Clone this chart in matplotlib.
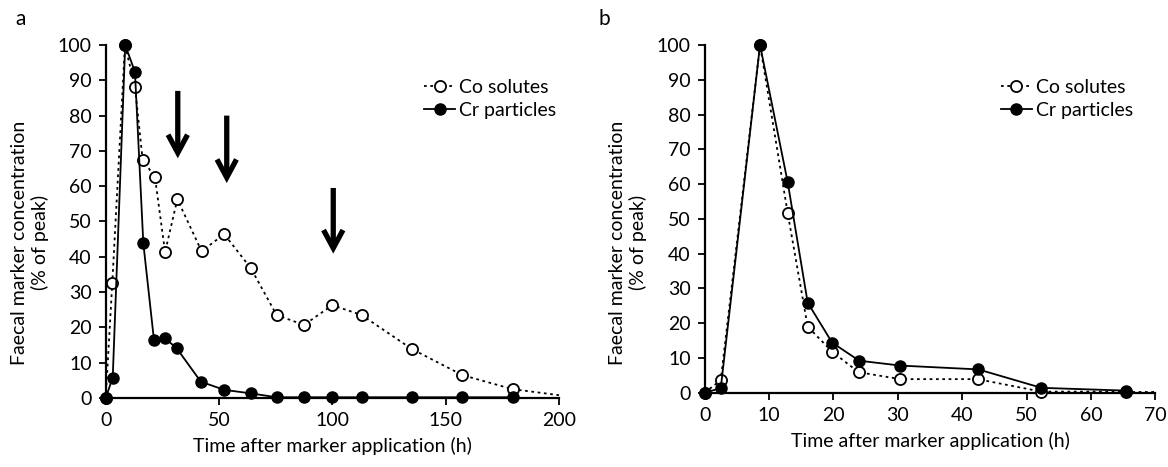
import matplotlib
matplotlib.use("Agg")
import matplotlib.pyplot as plt

plt.rcParams['font.family'] = ['Lato', 'DejaVu Sans']

# Panel a data
a_co_x = [0, 2.9, 8.5, 12.9, 16.3, 21.7, 26.2, 31.6, 42.3, 52.3, 64.1, 75.4, 87.5, 100, 112.9, 135, 157.3, 179.5]
a_co_y = [0, 32.5, 100, 88.2, 67.4, 62.7, 41.3, 56.3, 41.6, 46.4, 36.7, 23.5, 20.7, 26.3, 23.5, 13.9, 6.5, 2.5]
a_co_tail_x = [179.5, 200]
a_co_tail_y = [2.5, 0.8]
a_cr_x = [0, 3.1, 8.6, 12.9, 16.6, 21.3, 26.2, 31.3, 42, 52.3, 64.1, 75.4, 87.5, 100, 112.9, 135, 157.3, 179.5]
a_cr_y = [0, 5.8, 100, 92.4, 43.8, 16.4, 16.9, 14.1, 4.6, 2.3, 1.3, 0.2, 0.2, 0.2, 0.2, 0.2, 0.2, 0.2]
a_arrow_x = [31.8, 53.4, 100.4]
a_arrow_top = [87, 80, 59.5]
a_arrow_tip = [67.5, 60.5, 40.5]

# Panel b data
b_co_x = [0, 2.5, 8.6, 12.9, 16.0, 19.8, 23.9, 30.4, 42.4, 52.3, 65.4]
b_co_y = [0, 3.6, 100, 51.6, 19.0, 11.8, 5.9, 3.9, 3.9, 0.3, 0.3]
b_co_tail_x = [65.4, 70]
b_co_tail_y = [0.3, 0.3]
b_cr_x = [0, 2.5, 8.6, 12.9, 16.0, 19.8, 24.0, 30.4, 42.5, 52.3, 65.4]
b_cr_y = [0, 1.3, 100, 60.5, 25.9, 14.4, 9.2, 7.8, 6.7, 1.4, 0.6]

xlabel = "Time after marker application (h)"
ylabel = "Faecal marker concentration\n(% of peak)"
fs = 14

fig = plt.figure(figsize=(11.68, 4.67), dpi=100)
ax_a = fig.add_axes([0.0905, 0.1478, 0.3881, 0.7558])
ax_b = fig.add_axes([0.6033, 0.1591, 0.3859, 0.7445])

co_style = dict(color='black', linestyle=(0, (1.5, 2)), linewidth=1.3, marker='o',
                markersize=8, markerfacecolor='white', markeredgecolor='black',
                markeredgewidth=1.3, clip_on=False, zorder=3)
cr_style = dict(color='black', linestyle='-', linewidth=1.3, marker='o',
                markersize=8, markerfacecolor='black', markeredgecolor='black',
                clip_on=False, zorder=4)

def style_axes(ax, xmax, xstep):
    for s in ['top', 'right']:
        ax.spines[s].set_visible(False)
    for s in ['left', 'bottom']:
        ax.spines[s].set_linewidth(1.6)
    ax.set_ylim(0, 100)
    ax.set_xlim(0, xmax)
    ax.set_yticks(range(0, 101, 10))
    ax.set_xticks(range(0, xmax + 1, xstep))
    ax.tick_params(direction='out', length=5, width=1.3, labelsize=fs, pad=5)
    ax.set_xlabel(xlabel, fontsize=fs, labelpad=6)

# Panel a
ax_a.plot(a_co_tail_x, a_co_tail_y, color='black', linestyle=(0, (1.5, 2)), linewidth=1.3, clip_on=False)
ax_a.plot(a_co_x, a_co_y, label='Co solutes', **co_style)
ax_a.plot(a_cr_x, a_cr_y, label='Cr particles', **cr_style)
for x, t, b in zip(a_arrow_x, a_arrow_top, a_arrow_tip):
    ax_a.annotate('', xy=(x, b), xytext=(x, t),
                  arrowprops=dict(arrowstyle='->,head_length=1.3,head_width=0.7',
                                  color='black', lw=3.8, shrinkA=0, shrinkB=1,
                                  joinstyle='miter', capstyle='butt'))
style_axes(ax_a, 200, 50)
ax_a.legend(loc='upper left', bbox_to_anchor=(0.685, 0.925), frameon=False, fontsize=fs,
            handlelength=1.6, handletextpad=0.2, labelspacing=0.3, borderaxespad=0)

# Panel b
ax_b.plot(b_co_tail_x, b_co_tail_y, color='black', linestyle=(0, (1.5, 2)), linewidth=1.3, clip_on=False)
ax_b.plot(b_co_x, b_co_y, label='Co solutes', **co_style)
ax_b.plot(b_cr_x, b_cr_y, label='Cr particles', **cr_style)
style_axes(ax_b, 70, 10)
ax_b.legend(loc='upper left', bbox_to_anchor=(0.64, 0.925), frameon=False, fontsize=fs,
            handlelength=1.6, handletextpad=0.2, labelspacing=0.3, borderaxespad=0)

# y labels
fig.text(0.026, 0.48, ylabel, rotation=90, ha='center', va='center', fontsize=fs, multialignment='center')
fig.text(0.538, 0.48, ylabel, rotation=90, ha='center', va='center', fontsize=fs, multialignment='center')

fig.text(0.013, 0.96, 'a', fontsize=fs + 1, ha='left', va='center')
fig.text(0.512, 0.96, 'b', fontsize=fs + 1, ha='left', va='center')

fig.savefig('out.png', dpi=100)
